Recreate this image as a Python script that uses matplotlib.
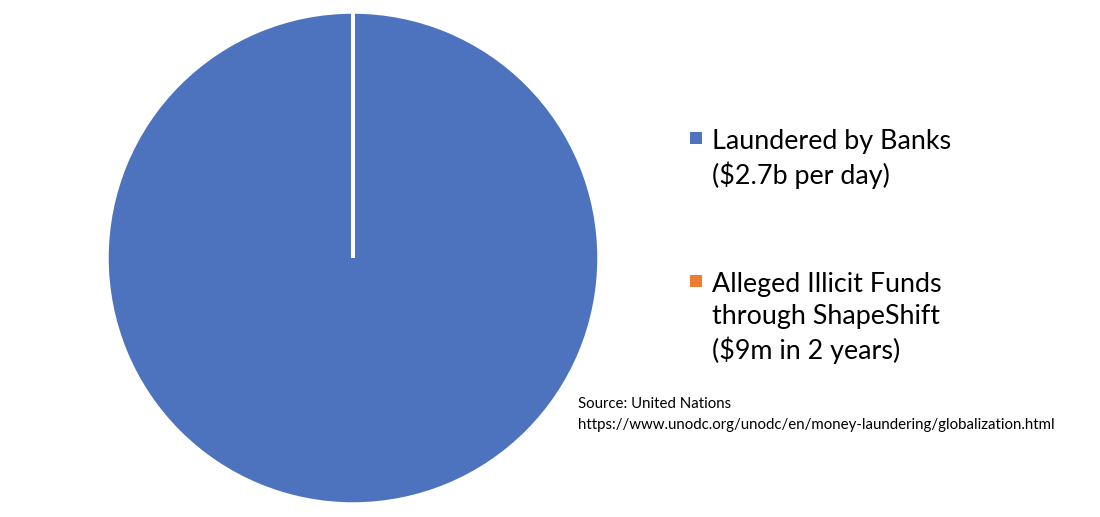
import matplotlib.pyplot as plt
from matplotlib.patches import Rectangle

plt.rcParams['font.family'] = ['Lato', 'DejaVu Sans']

# Значения в миллионах долларов за 2 года
labels = ['Laundered by Banks\n($2.7b per day)',
          'Alleged Illicit Funds\nthrough ShapeShift\n($9m in 2 years)']
values = [2700 * 365 * 2, 9]
colors = ['#4E73BE', '#ED7D31']
source = 'Source: United Nations\nhttps://www.unodc.org/unodc/en/money-laundering/globalization.html'

W, H = 1100, 517
fig = plt.figure(figsize=(W / 100, H / 100), dpi=100)

# Круговая диаграмма
ax = fig.add_axes([107 / W, (H - 504) / H, 492 / W, 492 / H])
wedges, _ = ax.pie(values, colors=colors, startangle=90, counterclock=False,
                   radius=1, wedgeprops=dict(edgecolor='white', linewidth=2.5))
ax.set_xlim(-1.0, 1.0)
ax.set_ylim(-1.0, 1.0)
ax.set_aspect('equal')

# Легенда вручную (квадрат у первой строки)
label_tops = [129, 272]
for w, lab, top in zip(wedges, labels, label_tops):
    fig.text(712 / W, 1 - top / H, lab, fontsize=19.4, va='top', ha='left',
             linespacing=1.35)
    fig.patches.append(Rectangle((690 / W, 1 - (top + 15) / H), 12 / W, 12 / H,
                                 transform=fig.transFigure,
                                 facecolor=w.get_facecolor(), edgecolor='none'))

fig.text(578 / W, 1 - 397 / H, source, fontsize=10.8, va='top', ha='left',
         linespacing=1.68)

fig.savefig('out.png', dpi=100)
